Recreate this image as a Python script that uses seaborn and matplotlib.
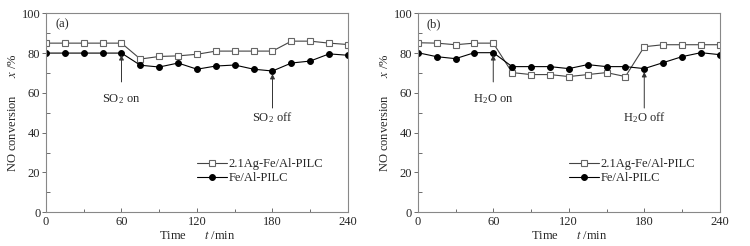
import matplotlib
matplotlib.use('Agg')
import matplotlib.pyplot as plt
import pandas as pd
import seaborn as sns


TIME = [0, 15, 30, 45, 60, 75, 90, 105, 120, 135, 150, 165, 180, 195, 210, 225, 240]

# panel (a): SO2 poisoning
AG_SO2 = [85, 85, 85, 85, 85, 77, 78.3, 78.6, 79.4, 81, 81, 81, 81, 86, 86, 85, 84.3]
FE_SO2 = [80, 80, 80, 80, 80, 73.9, 73, 75, 71.9, 73.5, 74, 71.9, 71, 75, 76, 79.6, 78.9]

# panel (b): H2O poisoning
AG_H2O = [85.2, 85, 84.2, 85, 85, 70.2, 69.2, 69.2, 68.2, 69.2, 70.2, 68.2, 83.2, 84.2, 84.2, 84.2, 84.2]
FE_H2O = [80.2, 78.2, 77.2, 80.2, 80.2, 73.2, 73.2, 73.2, 72.2, 74.2, 73.2, 73.2, 72.2, 75.2, 78.2, 80.2, 79.2]

SERIES = ['2.1Ag-Fe/Al-PILC', 'Fe/Al-PILC']
X_TICKS = [0, 60, 120, 180, 240]
Y_TICKS = [0, 20, 40, 60, 80, 100]

sns.set_style('ticks')
plt.rcParams['font.family'] = ['Liberation Serif', 'DejaVu Serif']
plt.rcParams['mathtext.fontset'] = 'stix'
plt.rcParams['font.size'] = 9


def make_frame(ag, fe):
    df = pd.DataFrame({'Time': TIME, SERIES[0]: ag, SERIES[1]: fe})
    return df.melt(id_vars='Time', var_name='Sample', value_name='Conversion')


def draw_panel(ax, df, tag, gas, off_tip):
    ag = df[df.Sample == SERIES[0]]
    fe = df[df.Sample == SERIES[1]]
    sns.lineplot(data=ag, x='Time', y='Conversion', ax=ax, color='#444444',
                 linewidth=0.8, marker='s', markersize=3.8, markerfacecolor='white',
                 markeredgecolor='#666666', markeredgewidth=0.8, label=SERIES[0])
    sns.lineplot(data=fe, x='Time', y='Conversion', ax=ax, color='black',
                 linewidth=0.8, marker='o', markersize=4.2, markerfacecolor='black',
                 markeredgecolor='black', label=SERIES[1])

    ax.set_xlim(0, 240)
    ax.set_ylim(0, 100)
    ax.set_xticks(X_TICKS)
    ax.set_xticks([30, 90, 150, 210], minor=True)
    ax.set_yticks(Y_TICKS)
    ax.set_yticks([10, 30, 50, 70, 90], minor=True)
    ax.tick_params(axis='x', which='major', direction='in', length=3, width=0.6, color='#555555', pad=3)
    ax.tick_params(axis='x', which='minor', direction='in', length=2, width=0.6, color='#555555')
    ax.tick_params(axis='y', which='major', direction='out', length=3, width=0.6, color='#555555', pad=1)
    ax.tick_params(axis='y', which='minor', direction='in', length=3, width=0.6, color='#555555')
    for sp in ax.spines.values():
        sp.set_color('#888888')
        sp.set_linewidth(0.8)

    ax.set_xlabel('Time      $t$ /min', labelpad=1)
    ax.set_ylabel('NO conversion      $x$ /%', labelpad=2)
    ax.text(0.03, 0.945, tag, transform=ax.transAxes, ha='left', va='center')

    arrow = dict(arrowstyle='-|>', color='#333333', lw=0.7, mutation_scale=7, shrinkA=0, shrinkB=0)
    ax.annotate('', xy=(60, 79), xytext=(60, 65.5), arrowprops=arrow)
    ax.text(60, 57, gas + ' on', ha='center', va='center')
    ax.annotate('', xy=(180, off_tip), xytext=(180, 52.4), arrowprops=arrow)
    ax.text(180, 47.7, gas + ' off', ha='center', va='center')

    ax.legend(loc='lower left', bbox_to_anchor=(0.48, 0.11), frameon=False,
              handlelength=2.4, handletextpad=0.1, labelspacing=0.15,
              borderpad=0, numpoints=1)


fig = plt.figure(figsize=(7.5, 2.46), dpi=100)
ax_a = fig.add_axes([0.0613, 0.137, 0.4027, 0.809])
ax_b = fig.add_axes([0.557, 0.137, 0.4027, 0.809])

draw_panel(ax_a, make_frame(AG_SO2, FE_SO2), '(a)', 'SO$_\\mathregular{2}$', 69.5)
draw_panel(ax_b, make_frame(AG_H2O, FE_H2O), '(b)', 'H$_\\mathregular{2}$O', 70.5)

fig.savefig('out.png', dpi=100)
